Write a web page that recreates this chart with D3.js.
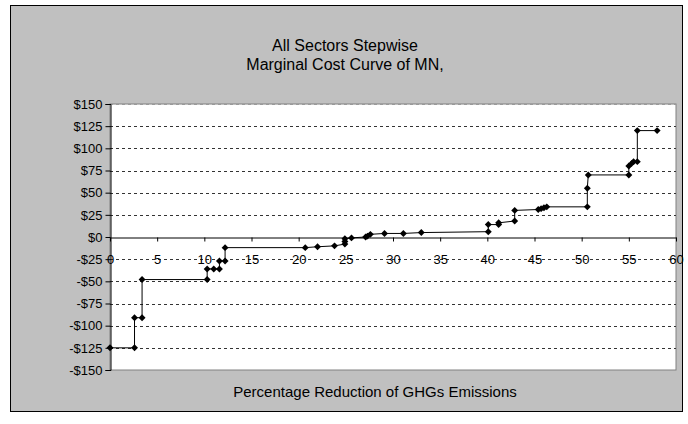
<!DOCTYPE html>
<html>
<head>
<meta charset="utf-8">
<script src="https://cdn.jsdelivr.net/npm/d3@7"></script>
<style>
  body { margin: 0; background: #fff; }
  text { font-family: "Liberation Sans", Arial, sans-serif; fill: #000; }
</style>
</head>
<body>
<svg id="chart" width="688" height="424"></svg>
<script>
// step points of the curve (percent reduction, $ per ton)
const reduction = [0, 2.6, 2.6, 3.4, 3.4, 10.3, 10.3, 11.0, 11.6, 11.6, 12.2, 12.2,
  20.7, 22.0, 23.8, 24.9, 24.9, 24.9, 25.6, 27.1, 27.3, 27.6, 29.1, 31.1, 33.0,
  40.1, 40.1, 41.2, 41.2, 42.9, 42.9, 45.4, 45.7, 46.0, 46.3, 50.6, 50.6, 50.7,
  55.0, 55.0, 55.3, 55.5, 55.9, 55.9, 58.0]
const cost = [-125, -125, -91, -91, -48, -48, -36, -36, -36, -27, -27, -12,
  -12, -11, -10, -8, -5, -2, -1, 0, 1, 3, 4, 4, 5,
  6, 14, 14, 16, 18, 30, 31, 32, 33, 34, 34, 55, 70,
  70, 80, 83, 85, 85, 120, 120]

const xTicks = [0, 5, 10, 15, 20, 25, 30, 35, 40, 45, 50, 55, 60]
const yTicks = [-150, -125, -100, -75, -50, -25, 0, 25, 50, 75, 100, 125, 150]

const titleLines = ["All Sectors Stepwise", "Marginal Cost Curve of MN,"]
const xTitle = "Percentage Reduction of GHGs Emissions"

const svg = d3.select("#chart")

const plot = { left: 110, top: 104, right: 676, bottom: 370 }

const x = d3.scaleLinear().domain([0, 60]).range([plot.left, plot.right])
const y = d3.scaleLinear().domain([-150, 150]).range([plot.bottom, plot.top])

// chart area
svg.append("rect")
  .attr("x", 10.5).attr("y", 5.5)
  .attr("width", 672).attr("height", 406)
  .attr("fill", "#c0c0c0")
  .attr("stroke", "#000")

svg.append("rect")
  .attr("x", plot.left).attr("y", plot.top)
  .attr("width", plot.right - plot.left).attr("height", plot.bottom - plot.top)
  .attr("fill", "#fff")
  .attr("stroke", "#808080")

// gridlines
svg.append("g")
  .selectAll("line")
  .data(yTicks.filter(d => d != 0 && d != -150))
  .join("line")
  .attr("x1", plot.left).attr("x2", plot.right)
  .attr("y1", d => Math.round(y(d)) + 0.5).attr("y2", d => Math.round(y(d)) + 0.5)
  .attr("stroke", d => d == 150 ? "#999" : "#333")
  .attr("stroke-dasharray", "3,3")

// y axis
const yAxis = svg.append("g")
  .attr("transform", `translate(${plot.left + 0.5},0)`)
  .call(d3.axisLeft(y).tickValues(yTicks).tickSize(5).tickPadding(3)
    .tickFormat(d => (d < 0 ? "-$" : "$") + Math.abs(d)))

yAxis.select(".domain").attr("stroke", "#000")
yAxis.selectAll(".tick line").attr("stroke", "#000")
yAxis.selectAll("text")
  .style("font-family", "'Liberation Sans', Arial, sans-serif")
  .style("font-size", "13px")

// x axis on the zero line
const xAxis = svg.append("g")
  .attr("transform", `translate(0,${Math.round(y(0)) + 0.5})`)
  .call(d3.axisBottom(x).tickValues(xTicks).tickSize(4).tickPadding(11).tickSizeOuter(0))

xAxis.select(".domain").attr("stroke", "#000")
xAxis.selectAll(".tick line").attr("stroke", "#000")
xAxis.selectAll("text")
  .style("font-family", "'Liberation Sans', Arial, sans-serif")
  .style("font-size", "13px")
  .attr("dy", "0.35em")
  .attr("y", 22)

// curve
const pts = reduction.map((r, i) => [r, cost[i]])

svg.append("path")
  .datum(pts)
  .attr("fill", "none")
  .attr("stroke", "#000")
  .attr("stroke-width", 1)
  .attr("d", d3.line().x(d => x(d[0])).y(d => y(d[1])))

const diamond = {
  draw(ctx, size) {
    const r = Math.sqrt(size / 2)
    ctx.moveTo(0, -r)
    ctx.lineTo(r, 0)
    ctx.lineTo(0, r)
    ctx.lineTo(-r, 0)
    ctx.closePath()
  }
}

svg.append("g")
  .selectAll("path")
  .data(pts)
  .join("path")
  .attr("transform", d => `translate(${x(d[0])},${y(d[1])})`)
  .attr("d", d3.symbol().type(diamond).size(24))
  .attr("fill", "#000")

// titles
svg.append("g")
  .selectAll("text")
  .data(titleLines)
  .join("text")
  .attr("x", 345)
  .attr("y", (d, i) => 51 + i * 19)
  .attr("text-anchor", "middle")
  .style("font-size", "16px")
  .text(d => d)

svg.append("text")
  .attr("x", 375)
  .attr("y", 397)
  .attr("text-anchor", "middle")
  .style("font-size", "15px")
  .text(xTitle)
</script>
</body>
</html>
